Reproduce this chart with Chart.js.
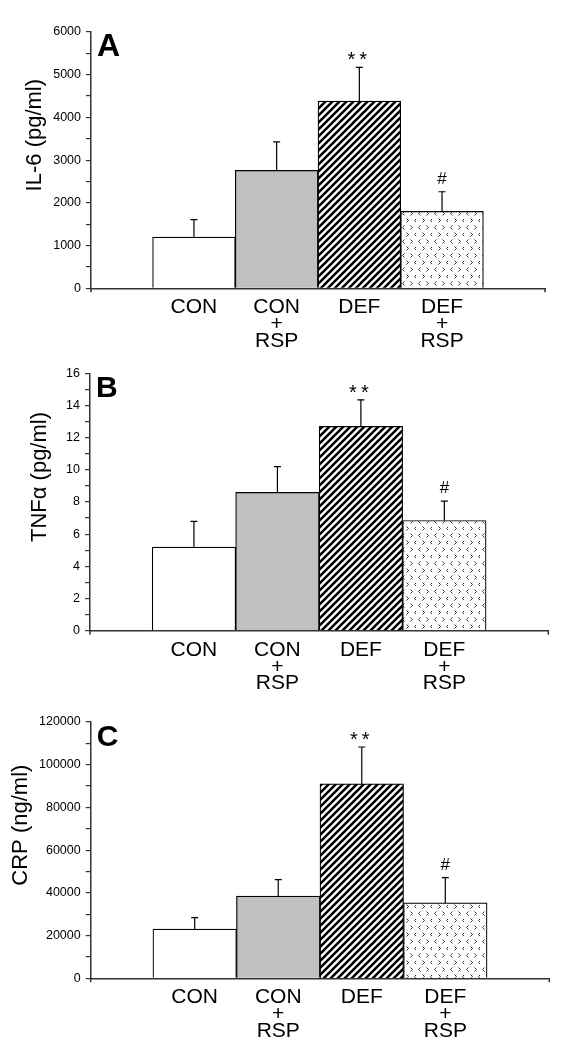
<!DOCTYPE html>
<html>
<head>
<meta charset="utf-8">
<script src="https://cdn.jsdelivr.net/npm/chart.js@4.4.0/dist/chart.umd.min.js"></script>
<style>
  html, body { margin: 0; padding: 0; background: #fff; }
  .panel { position: absolute; left: 0; width: 573px; height: 350px; }
</style>
</head>
<body>
<div class="panel" style="top:0"><canvas id="chartA" width="573" height="350"></canvas></div>
<div class="panel" style="top:350px"><canvas id="chartB" width="573" height="350"></canvas></div>
<div class="panel" style="top:700px"><canvas id="chartC" width="573" height="350"></canvas></div>
<script>
// groups on the x axis (multi-line labels)
const groups = [["CON"], ["CON", "+", "RSP"], ["DEF"], ["DEF", "+", "RSP"]];

// A - IL-6 (pg/ml), mean and SEM
const il6Mean = [1200, 2760, 4380, 1800];
const il6Sem = [410, 670, 790, 460];
// B - TNFa (pg/ml)
const tnfMean = [5.2, 8.6, 12.7, 6.85];
const tnfSem = [1.6, 1.6, 1.65, 1.2];
// C - CRP (ng/ml)
const crpMean = [23000, 38500, 91000, 35300];
const crpSem = [5400, 7700, 17300, 11800];

// significance marks above each bar
const marks = ["", "", "**", "#"];

const FONT = '"Liberation Sans", Arial, sans-serif';
const axisColor = "#333";

// hatch fills
const makeStripes = () => {
  const s = 7;
  const c = document.createElement("canvas");
  c.width = s; c.height = s;
  const g = c.getContext("2d");
  g.fillStyle = "#fff";
  g.fillRect(0, 0, s, s);
  g.strokeStyle = "#000";
  g.lineWidth = 2.6;
  g.beginPath();
  g.moveTo(-1, s + 1); g.lineTo(s + 1, -1);
  g.moveTo(-s - 1, s + 1); g.lineTo(1, -1);
  g.moveTo(s - 1, s + 1); g.lineTo(2 * s + 1, -1);
  g.stroke();
  return g.createPattern(c, "repeat");
};

const makeConfetti = () => {
  const w = 16, h = 14;
  const c = document.createElement("canvas");
  c.width = w; c.height = h;
  const g = c.getContext("2d");
  g.fillStyle = "#fff";
  g.fillRect(0, 0, w, h);
  g.strokeStyle = "#333";
  g.lineWidth = 1;
  const chev = (x, y, right) => {
    g.beginPath();
    if (right) { g.moveTo(x, y); g.lineTo(x + 2, y + 2); g.lineTo(x, y + 4); }
    else { g.moveTo(x + 2, y); g.lineTo(x, y + 2); g.lineTo(x + 2, y + 4); }
    g.stroke();
  };
  chev(2.5, 1.5, false);
  chev(10.5, 1.5, true);
  chev(6.5, 8.5, true);
  chev(14.5, 8.5, false);
  return g.createPattern(c, "repeat");
};

const stripes = makeStripes();
const confetti = makeConfetti();

const makeChart = (id, cfg) => {
  const extras = {
    id: "extras" + id,
    afterDatasetsDraw(chart) {
      const { ctx, chartArea } = chart;
      const y = chart.scales.y;
      const meta = chart.getDatasetMeta(0);
      ctx.save();
      ctx.strokeStyle = "#000";
      ctx.lineWidth = 1.2;
      meta.data.forEach((bar, i) => {
        const top = y.getPixelForValue(cfg.mean[i] + cfg.sem[i]);
        ctx.beginPath();
        ctx.moveTo(bar.x, bar.y);
        ctx.lineTo(bar.x, top);
        ctx.moveTo(bar.x - 3.5, top);
        ctx.lineTo(bar.x + 3.5, top);
        ctx.stroke();
        ctx.fillStyle = "#000";
        ctx.textAlign = "center";
        ctx.textBaseline = "alphabetic";
        if (marks[i] === "**") {
          ctx.font = "20px " + FONT;
          ctx.letterSpacing = "4px";
          ctx.fillText(marks[i], bar.x, top - 1);
          ctx.letterSpacing = "0px";
        } else if (marks[i] === "#") {
          ctx.font = "17px " + FONT;
          ctx.fillText(marks[i], bar.x, top - 8);
        }
      });
      // boundary ticks of the category axis
      ctx.strokeStyle = axisColor;
      ctx.lineWidth = 1.5;
      ctx.beginPath();
      ctx.moveTo(chartArea.left, chartArea.bottom);
      ctx.lineTo(chartArea.left, chartArea.bottom + 4);
      ctx.moveTo(chartArea.right, chartArea.bottom);
      ctx.lineTo(chartArea.right, chartArea.bottom + 4);
      ctx.stroke();
      // panel letter
      ctx.fillStyle = "#000";
      ctx.textAlign = "left";
      ctx.font = "bold " + cfg.letterSize + "px " + FONT;
      ctx.fillText(cfg.letter, chartArea.left + 6, chartArea.top + 23.5);
      // y axis title, sits above the middle of the axis
      ctx.save();
      ctx.translate(cfg.titleX, (chartArea.top + chartArea.bottom) / 2 - 25);
      ctx.rotate(-Math.PI / 2);
      ctx.textAlign = "center";
      ctx.textBaseline = "middle";
      ctx.font = "22px " + FONT;
      ctx.fillText(cfg.yTitle, 0, 0);
      ctx.restore();
      ctx.restore();
    },
  };

  new Chart(document.getElementById(id).getContext("2d"), {
    type: "bar",
    data: {
      datasets: [
        {
          data: cfg.mean.map((v, i) => ({ x: i, y: v })),
          backgroundColor: ["#ffffff", "#c0c0c0", stripes, confetti],
          borderColor: "#000",
          borderWidth: 1.2,
          borderSkipped: "bottom",
          barPercentage: 1,
          categoryPercentage: 1,
        },
      ],
    },
    options: {
      responsive: false,
      animation: false,
      layout: { padding: { top: cfg.top, right: cfg.right, left: 0, bottom: 0 } },
      plugins: { legend: { display: false }, tooltip: { enabled: false } },
      scales: {
        x: {
          type: "linear",
          offset: false,
          min: -1.245,
          max: 4.245,
          afterBuildTicks: (s) => {
            s.ticks = groups.map((g, i) => ({ value: i }));
          },
          afterFit: (s) => {
            s.height = cfg.xHeight;
          },
          grid: { display: true, offset: false, drawOnChartArea: false, drawTicks: false },
          border: { color: axisColor, width: 1.5 },
          ticks: {
            callback: (v) => groups[v],
            color: "#000",
            font: { family: FONT, size: 21, lineHeight: 0.8 },
            padding: 11,
            maxRotation: 0,
            autoSkip: false,
          },
        },
        y: {
          min: 0,
          max: cfg.yMax,
          afterFit: (s) => {
            s.width = cfg.yWidth;
          },
          grid: { drawOnChartArea: false, drawTicks: true, tickLength: 5, color: axisColor, lineWidth: 1.2 },
          border: { color: axisColor, width: 1.5 },
          ticks: {
            stepSize: cfg.step,
            autoSkip: false,
            callback: (v) => (v % cfg.labelEvery === 0 ? String(v) : ""),
            color: "#000",
            font: { family: FONT, size: 12.5 },
            padding: 5,
          },
        },
      },
    },
    plugins: [extras],
  });
};

makeChart("chartA", {
  letter: "A", letterSize: 32, yTitle: "IL-6 (pg/ml)", titleX: 35,
  mean: il6Mean, sem: il6Sem, yMax: 6000, step: 500, labelEvery: 1000,
  top: 32, xHeight: 61.7, right: 28, yWidth: 91,
});
makeChart("chartB", {
  letter: "B", letterSize: 30, yTitle: "TNF\u03b1 (pg/ml)", titleX: 40,
  mean: tnfMean, sem: tnfSem, yMax: 16, step: 1, labelEvery: 2,
  top: 23.3, xHeight: 69.3, right: 24.7, yWidth: 90,
});
makeChart("chartC", {
  letter: "C", letterSize: 30, yTitle: "CRP (ng/ml)", titleX: 21,
  mean: crpMean, sem: crpSem, yMax: 120000, step: 10000, labelEvery: 20000,
  top: 22, xHeight: 71.7, right: 23.7, yWidth: 90.7,
});
</script>
</body>
</html>
